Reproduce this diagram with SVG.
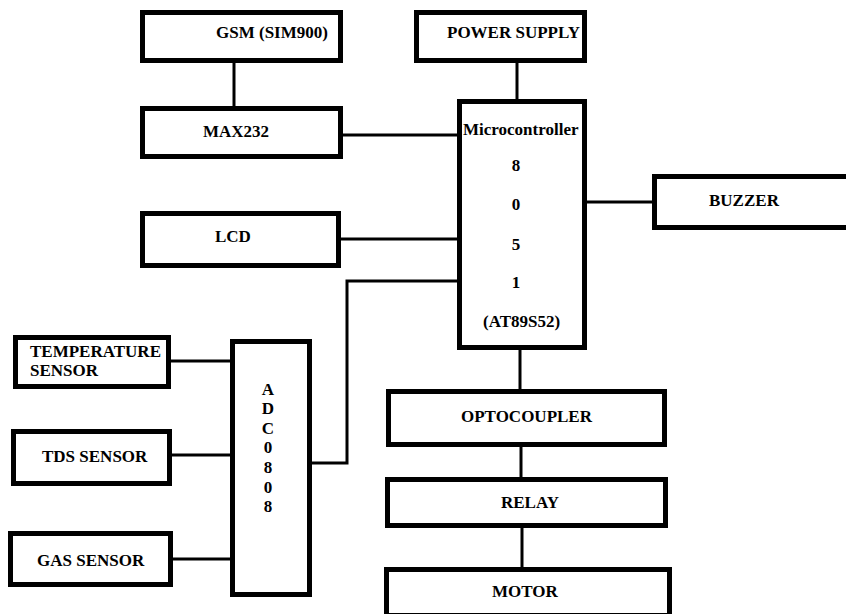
<svg xmlns="http://www.w3.org/2000/svg" width="846" height="614" viewBox="0 0 846 614">
<defs>
<style>
.box{fill:#fff;stroke:#000;stroke-width:5}
.c{stroke:#000;stroke-width:3;fill:none}
</style>
</defs>
<rect width="846" height="614" fill="#fff"/>
<g id="connectors">
<line class="c" x1="234" y1="62" x2="234" y2="108"/>
<line class="c" x1="341" y1="135" x2="460" y2="135"/>
<line class="c" x1="517" y1="62" x2="517" y2="101"/>
<line class="c" x1="339" y1="239" x2="460" y2="239"/>
<polyline class="c" points="460,281 347,281 347,463 310,463"/>
<line class="c" x1="585" y1="202" x2="654" y2="202"/>
<line class="c" x1="520" y1="348" x2="520" y2="391"/>
<line class="c" x1="169" y1="361" x2="232" y2="361"/>
<line class="c" x1="170" y1="455" x2="232" y2="455"/>
<line class="c" x1="171" y1="559" x2="232" y2="559"/>
<line class="c" x1="521" y1="445" x2="521" y2="479"/>
<line class="c" x1="522" y1="526" x2="522" y2="569"/>
</g>
<g id="gsm"><rect class="box" x="142.5" y="12.5" width="198" height="48"/><text font-family="Times New Roman" font-weight="bold" font-size="17" x="216" y="38">GSM (SIM900)</text></g>
<g id="max232"><rect class="box" x="142.5" y="108.5" width="198" height="48"/><text font-family="Times New Roman" font-weight="bold" font-size="17" x="203" y="137">MAX232</text></g>
<g id="power"><rect class="box" x="416.5" y="12.5" width="168" height="48"/><text font-family="Times New Roman" font-weight="bold" font-size="17" x="447" y="38">POWER SUPPLY</text></g>
<g id="micro"><rect class="box" x="459.5" y="101.5" width="125" height="246"/>
<text font-family="Times New Roman" font-weight="bold" font-size="17" x="463" y="135">Microcontroller</text>
<text font-family="Times New Roman" font-weight="bold" font-size="17" x="516" y="171" text-anchor="middle">8</text>
<text font-family="Times New Roman" font-weight="bold" font-size="17" x="516" y="210" text-anchor="middle">0</text>
<text font-family="Times New Roman" font-weight="bold" font-size="17" x="516" y="250" text-anchor="middle">5</text>
<text font-family="Times New Roman" font-weight="bold" font-size="17" x="516" y="288" text-anchor="middle">1</text>
<text font-family="Times New Roman" font-weight="bold" font-size="17" x="483" y="327">(AT89S52)</text></g>
<g id="buzzer"><rect class="box" x="654.5" y="176.5" width="196" height="51"/><text font-family="Times New Roman" font-weight="bold" font-size="17" x="709" y="206">BUZZER</text></g>
<g id="lcd"><rect class="box" x="142.5" y="213.5" width="196" height="52"/><text font-family="Times New Roman" font-weight="bold" font-size="17" x="215" y="242">LCD</text></g>
<g id="adc"><rect class="box" x="232.5" y="341.5" width="77" height="253"/>
<text font-family="Times New Roman" font-weight="bold" font-size="17" x="268" y="395" text-anchor="middle">A</text>
<text font-family="Times New Roman" font-weight="bold" font-size="17" x="268" y="414" text-anchor="middle">D</text>
<text font-family="Times New Roman" font-weight="bold" font-size="17" x="268" y="434" text-anchor="middle">C</text>
<text font-family="Times New Roman" font-weight="bold" font-size="17" x="268" y="453" text-anchor="middle">0</text>
<text font-family="Times New Roman" font-weight="bold" font-size="17" x="268" y="473" text-anchor="middle">8</text>
<text font-family="Times New Roman" font-weight="bold" font-size="17" x="268" y="493" text-anchor="middle">0</text>
<text font-family="Times New Roman" font-weight="bold" font-size="17" x="268" y="512" text-anchor="middle">8</text></g>
<g id="temp"><rect class="box" x="15.5" y="337.5" width="153" height="49"/><text font-family="Times New Roman" font-weight="bold" font-size="17" x="30" y="357">TEMPERATURE</text><text font-family="Times New Roman" font-weight="bold" font-size="17" x="30" y="376">SENSOR</text></g>
<g id="tds"><rect class="box" x="13.5" y="431.5" width="156" height="52"/><text font-family="Times New Roman" font-weight="bold" font-size="17" x="42" y="462">TDS SENSOR</text></g>
<g id="gas"><rect class="box" x="10.5" y="533.5" width="160" height="51"/><text font-family="Times New Roman" font-weight="bold" font-size="17" x="37" y="566">GAS SENSOR</text></g>
<g id="opto"><rect class="box" x="388.5" y="391.5" width="276" height="53"/><text font-family="Times New Roman" font-weight="bold" font-size="17" x="461" y="422">OPTOCOUPLER</text></g>
<g id="relay"><rect class="box" x="387.5" y="479.5" width="278" height="46"/><text font-family="Times New Roman" font-weight="bold" font-size="17" x="501" y="508">RELAY</text></g>
<g id="motor"><rect class="box" x="386.5" y="569.5" width="283" height="46"/><text font-family="Times New Roman" font-weight="bold" font-size="17" x="492" y="597">MOTOR</text></g>
</svg>
